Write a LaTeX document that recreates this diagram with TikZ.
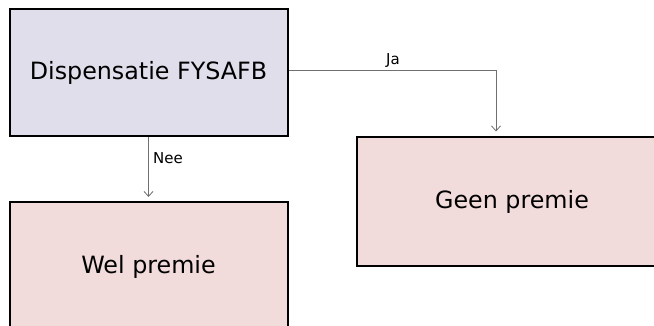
\documentclass[tikz,border=0pt]{standalone}
\usepackage{fontspec}
\setmainfont{DejaVu Sans}
\usetikzlibrary{arrows.meta}
\definecolor{lav}{HTML}{E1DEEC}
\definecolor{pnk}{HTML}{F2DCDB}
\definecolor{conn}{HTML}{707070}
\begin{document}
\begin{tikzpicture}[x=1pt,y=-1pt,
  box/.style={draw=black,line width=2pt,minimum width=278pt,minimum height=127pt,inner sep=0pt,font=\fontsize{23.8}{28}\selectfont},
  conn/.style={draw=conn,line width=0.9pt,-{Straight Barb[length=5pt,width=9pt,line width=0.8pt]}},
  lbl/.style={font=\fontsize{15}{18}\selectfont,inner sep=0pt}]
\clip (0,0) rectangle (654,326);
\fill[white] (0,0) rectangle (654,326);
\node[box,fill=lav] (d) at (148.5,72.5) {Dispensatie FYSAFB};
\node[box,fill=pnk,minimum height=130pt] (w) at (148.5,267) {Wel premie};
\node[box,fill=pnk,minimum width=310pt,minimum height=128pt] (g) at (512,201.5) {Geen premie};
\coordinate (gin) at ([xshift=140pt]g.north west);
\draw[conn,shorten >=5pt] ([yshift=2pt]d.east) -| (gin);
\draw[conn,shorten >=4pt] (d.south) -- (w.north);
\node[lbl] (ja) at (393,61) {Ja};
\node[lbl] (nee) at (168,158) {Nee};
\end{tikzpicture}
\end{document}
